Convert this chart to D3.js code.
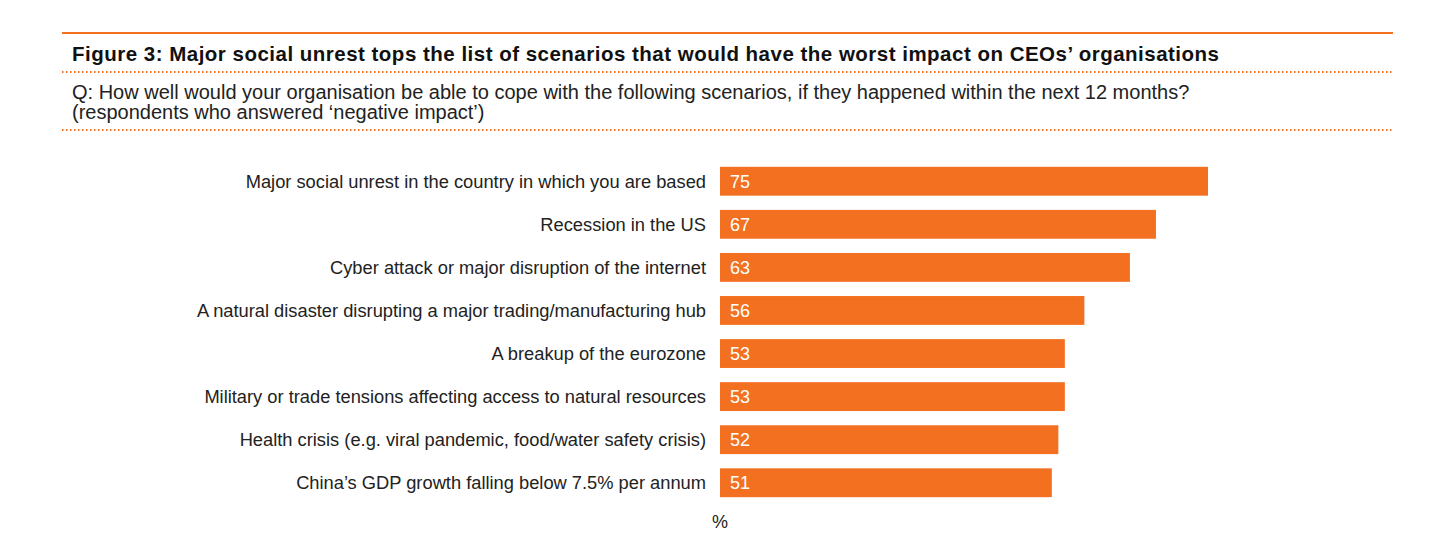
<!DOCTYPE html>
<html><head><meta charset="utf-8">
<script src="https://cdn.jsdelivr.net/npm/d3@7"></script>
<style>body{margin:0;background:#fff;} svg{display:block;}</style>
</head><body>
<svg id="c" width="1456" height="557"></svg>
<script>
const categories = [
  "Major social unrest in the country in which you are based",
  "Recession in the US",
  "Cyber attack or major disruption of the internet",
  "A natural disaster disrupting a major trading/manufacturing hub",
  "A breakup of the eurozone",
  "Military or trade tensions affecting access to natural resources",
  "Health crisis (e.g. viral pandemic, food/water safety crisis)",
  "China\u2019s GDP growth falling below 7.5% per annum"
];
const values = [75, 67, 63, 56, 53, 53, 52, 51];
const title = "Figure 3: Major social unrest tops the list of scenarios that would have the worst impact on CEOs\u2019 organisations";
const subtitle = ["Q: How well would your organisation be able to cope with the following scenarios, if they happened within the next 12 months?",
  "(respondents who answered \u2018negative impact\u2019)"];
const unitLabel = "%";

const orange = "#F47021";
const svg = d3.select("#c");
const font = "'Liberation Sans', Arial, Helvetica, sans-serif";

svg.append("line").attr("x1",62).attr("x2",1393).attr("y1",33).attr("y2",33)
  .attr("stroke",orange).attr("stroke-width",2);
svg.append("text").attr("x",72).attr("y",61).text(title)
  .attr("font-family",font).attr("font-weight","bold").attr("font-size",20.5).attr("fill","#111")
  .attr("textLength",1147).attr("lengthAdjust","spacing");
[72,130].forEach(y=>svg.append("line").attr("x1",62).attr("x2",1393).attr("y1",y).attr("y2",y)
  .attr("stroke",orange).attr("stroke-width",2).attr("stroke-dasharray","1.5,2.5"));
subtitle.forEach((s,i)=>svg.append("text").attr("x",72).attr("y",99+i*20).text(s)
  .attr("font-family",font).attr("font-size",20).attr("fill","#222"));

const x = d3.scaleLinear().domain([0,75]).range([720,1208]);
const y = d3.scaleBand().domain(categories).range([159.5,504.5]).paddingInner(0.33).paddingOuter(0.17);

const g = svg.append("g");
g.selectAll("rect").data(values).join("rect")
  .attr("x",x(0)).attr("y",(d,i)=>y(categories[i]))
  .attr("width",d=>x(d)-x(0)).attr("height",y.bandwidth()).attr("fill",orange);
g.selectAll("text.v").data(values).join("text").attr("class","v")
  .attr("x",x(0)+10).attr("y",(d,i)=>y(categories[i])+y.bandwidth()/2+6.5)
  .text(d=>d).attr("font-family",font).attr("font-size",18).attr("fill","#fff");
g.selectAll("text.c").data(categories).join("text").attr("class","c")
  .attr("x",706).attr("y",d=>y(d)+y.bandwidth()/2+6.5).attr("text-anchor","end")
  .text(d=>d).attr("font-family",font).attr("font-size",18.3).attr("fill","#222");
svg.append("text").attr("x",712).attr("y",528).text(unitLabel)
  .attr("font-family",font).attr("font-size",18).attr("fill","#222");
</script>
</body></html>
